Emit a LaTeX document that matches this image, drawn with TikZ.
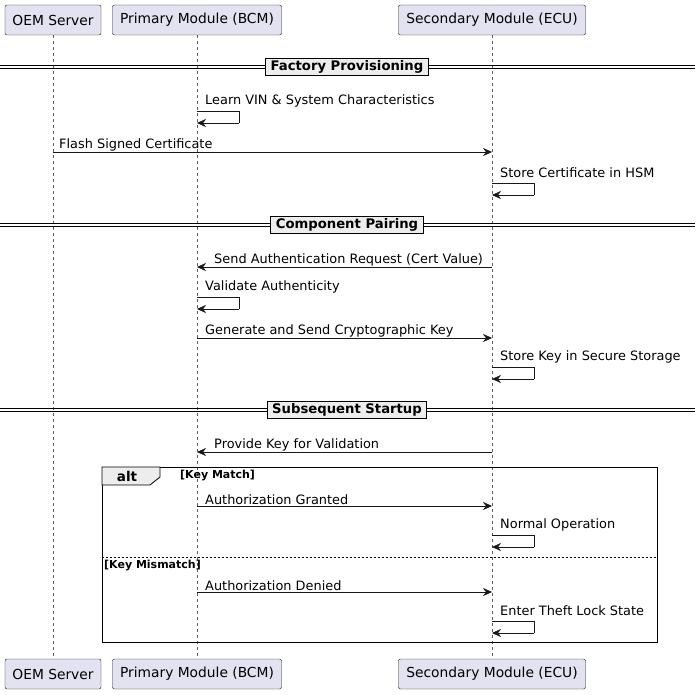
\documentclass[tikz,border=0pt]{standalone}
\usepackage{fontspec}
\setmainfont{DejaVu Sans}
\usetikzlibrary{arrows.meta,positioning}
\definecolor{partfill}{HTML}{E2E2F0}
\definecolor{partline}{HTML}{181818}
\begin{document}
\begin{tikzpicture}[x=1pt,y=-1pt,font=\fontsize{12.9}{14}\selectfont,
  part/.style={draw=partline,fill=partfill,rounded corners=2pt,minimum height=30pt,inner xsep=6pt,font=\fontsize{13.8}{15}\selectfont},
  msg/.style={-{Stealth[length=9pt,width=8pt,inset=3pt]},draw=partline},
  lbl/.style={anchor=west,inner sep=0pt},
  sep/.style={draw=black,thick,fill=black!7,font=\fontsize{13.2}{15}\selectfont\bfseries,inner sep=2pt,inner xsep=5pt}]
  \useasboundingbox (0,0) rectangle (695,695);
  % participants
  \foreach \nm/\x/\w/\txt in {oem/53/96/OEM Server,bcm/197/169/Primary Module (BCM),ecu/492/187/Secondary Module (ECU)}{
    \node[part,minimum width=\w pt] (\nm-top) at (\x,20) {\txt};
    \node[part,minimum width=\w pt] (\nm-bot) at (\x,674) {\txt};
    \draw[draw=partline!70,dash pattern=on 3pt off 3pt] (\nm-top) -- (\nm-bot);
  }
  % separators
  \foreach \y/\txt/\n in {67/Factory Provisioning/s1,225/Component Pairing/s2,410/Subsequent Startup/s3}{
    \draw[thick] (0,\y-1.5) -- (695,\y-1.5) (0,\y+1.5) -- (695,\y+1.5);
    \node[sep] (\n) at (347,\y) {\txt};
  }
  % self messages
  \foreach \x/\y/\txt in {197/101/Learn VIN \& System Characteristics,492/173/Store Certificate in HSM,
    197/287/Validate Authenticity,492/357/Store Key in Secure Storage,
    492/525/Normal Operation,492/611/Enter Theft Lock State}{
    \node[lbl] at (\x+8,\y) {\txt};
    \draw[draw=partline] (\x,\y+10) -- (\x+42,\y+10) -- (\x+42,\y+22);
    \draw[msg] (\x+42,\y+22) -- (\x,\y+22);
  }
  % messages
  \draw[msg] (53,152) -- (492,152) node[lbl,pos=0,above right=1pt and 6pt] {Flash Signed Certificate};
  \draw[msg] (492,267) -- (197,267) node[lbl,pos=1,above right=1pt and 17pt] {Send Authentication Request (Cert Value)};
  \draw[msg] (197,338) -- (492,338) node[lbl,pos=0,above right=1pt and 8pt] {Generate and Send Cryptographic Key};
  \draw[msg] (492,452) -- (197,452) node[lbl,pos=1,above right=1pt and 17pt] {Provide Key for Validation};
  % alt frame
  \draw[thick] (102,467) rectangle (657,642);
  \draw[thick,fill=black!7] (102,485) -- (150,485) -- (160,477) -- (160,467) -- (102,467) -- cycle;
  \node[font=\fontsize{13.5}{15}\selectfont\bfseries] (alt) at (127,476) {alt};
  \node[lbl,font=\fontsize{11}{12}\selectfont\bfseries] (g1) at (180,476) {[Key Match]};
  \draw[dash pattern=on 2pt off 2pt] (102,557) -- (657,557);
  \node[lbl,font=\fontsize{11}{12}\selectfont\bfseries] (g2) at (104,566) {[Key Mismatch]};
  \draw[msg] (197,506) -- (492,506) node[lbl,pos=0,above right=1pt and 8pt] {Authorization Granted};
  \draw[msg] (197,592) -- (492,592) node[lbl,pos=0,above right=1pt and 8pt] {Authorization Denied};
\end{tikzpicture}
\end{document}
